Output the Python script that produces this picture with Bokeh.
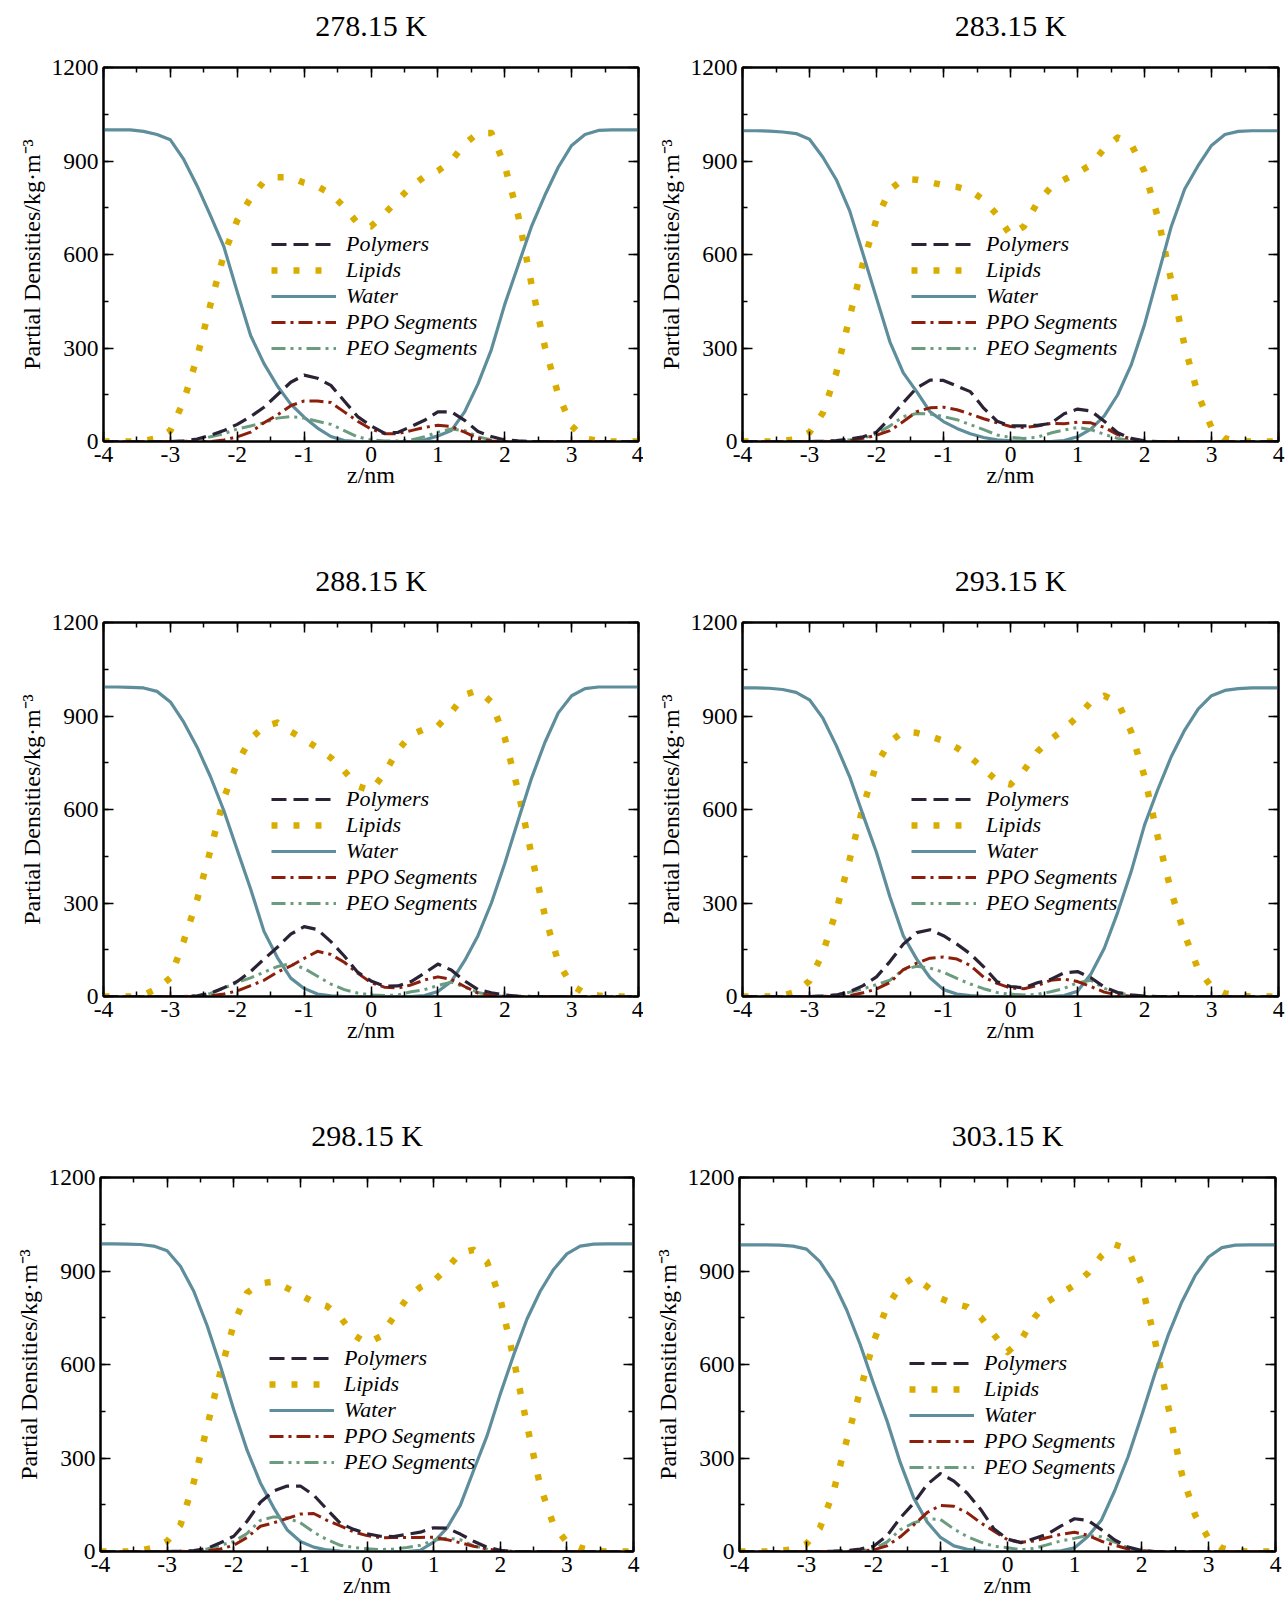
from bokeh.plotting import figure
from bokeh.models import (Range1d, SingleIntervalTicker, LinearAxis, Legend, LegendItem,
                          CustomLabelingPolicy, CustomJSTickFormatter)
from bokeh.layouts import column, row
from bokeh.embed import file_html
from bokeh.resources import INLINE

SERIF = "Liberation Serif"

# z coordinate (nm)
z = [-4.0, -3.8, -3.6, -3.4, -3.2, -3.0, -2.8, -2.6, -2.4, -2.2,
     -2.0, -1.8, -1.6, -1.4, -1.2, -1.0, -0.8, -0.6, -0.4, -0.2,
     0.0, 0.2, 0.4, 0.6, 0.8, 1.0, 1.2, 1.4, 1.6, 1.8,
     2.0, 2.2, 2.4, 2.6, 2.8, 3.0, 3.2, 3.4, 3.6, 3.8, 4.0]

temperatures = ["278.15 K", "283.15 K", "288.15 K", "293.15 K", "298.15 K", "303.15 K"]
series_names = ["Polymers", "Lipids", "Water", "PPO Segments", "PEO Segments"]

# ---- 278.15 K ----
water_278 = [1000, 1000, 1000, 995, 985, 968, 905, 820, 725, 625,
             480, 340, 250, 178, 120, 78, 43, 16, 3, 0,
             0, 0, 0, 0, 5, 18, 35, 95, 185, 295,
             440, 565, 690, 790, 880, 950, 985, 998, 1000, 1000, 1000]
lipids_278 = [0, 0, 0, 2, 10, 35, 130, 270, 440, 600,
              710, 781, 835, 848, 848, 830, 818, 795, 752, 700,
              690, 730, 775, 818, 850, 868, 900, 955, 990, 990,
              885, 726, 505, 304, 150, 50, 10, 2, 0, 0, 0]
polymers_278 = [0, 0, 0, 0, 0, 0, 2, 8, 20, 35,
                55, 80, 110, 150, 190, 213, 203, 180, 130, 80,
                50, 27, 29, 48, 68, 95, 95, 68, 32, 16,
                5, 2, 0, 0, 0, 0, 0, 0, 0, 0, 0]
ppo_278 = [0, 0, 0, 0, 0, 0, 0, 0, 0, 5,
           15, 30, 60, 85, 115, 130, 130, 125, 95, 65,
           40, 25, 25, 35, 45, 52, 48, 30, 10, 2,
           0, 0, 0, 0, 0, 0, 0, 0, 0, 0, 0]
peo_278 = [0, 0, 0, 0, 0, 0, 0, 5, 15, 25,
           40, 50, 60, 75, 80, 75, 65, 55, 35, 15,
           5, 2, 2, 5, 15, 30, 40, 35, 15, 5,
           0, 0, 0, 0, 0, 0, 0, 0, 0, 0, 0]

# ---- 283.15 K ----
water_283 = [997, 997, 996, 993, 988, 970, 912, 840, 740, 601,
             460, 320, 220, 160, 95, 64, 42, 25, 13, 5,
             2, 0, 0, 0, 3, 15, 40, 82, 150, 245,
             375, 532, 690, 810, 885, 950, 985, 995, 997, 997, 997]
lipids_283 = [0, 0, 0, 1, 8, 29, 92, 220, 400, 574,
              713, 808, 842, 840, 832, 822, 817, 805, 775, 727,
              662, 690, 766, 815, 840, 862, 888, 940, 975, 955,
              866, 720, 515, 305, 150, 45, 10, 2, 0, 0, 0]
polymers_283 = [0, 0, 0, 0, 0, 0, 1, 3, 8, 15,
                30, 75, 125, 172, 197, 196, 178, 160, 107, 65,
                50, 50, 52, 58, 89, 104, 98, 65, 28, 10,
                2, 0, 0, 0, 0, 0, 0, 0, 0, 0, 0]
ppo_283 = [0, 0, 0, 0, 0, 0, 0, 0, 3, 10,
           20, 35, 64, 96, 108, 110, 102, 88, 73, 60,
           48, 45, 50, 58, 57, 62, 60, 45, 22, 8,
           0, 0, 0, 0, 0, 0, 0, 0, 0, 0, 0]
peo_283 = [0, 0, 0, 0, 0, 0, 0, 2, 5, 10,
           25, 50, 80, 90, 88, 80, 70, 54, 38, 21,
           13, 10, 14, 27, 37, 45, 38, 23, 10, 3,
           0, 0, 0, 0, 0, 0, 0, 0, 0, 0, 0]

# ---- 288.15 K ----
water_288 = [993, 993, 992, 990, 979, 945, 880, 800, 705, 596,
             470, 345, 209, 125, 59, 26, 8, 2, 0, 0,
             0, 0, 0, 0, 3, 16, 48, 115, 195, 300,
             427, 565, 700, 815, 910, 965, 988, 993, 993, 993, 993]
lipids_288 = [0, 0, 0, 5, 25, 60, 178, 310, 470, 636,
              750, 827, 866, 879, 850, 825, 797, 766, 724, 675,
              660, 715, 790, 840, 858, 868, 912, 968, 982, 945,
              830, 660, 455, 260, 110, 36, 10, 3, 0, 0, 0]
polymers_288 = [0, 0, 0, 0, 0, 0, 0, 2, 10, 28,
                48, 80, 120, 158, 200, 224, 215, 176, 130, 78,
                50, 33, 34, 48, 75, 104, 85, 50, 22, 12,
                5, 1, 0, 0, 0, 0, 0, 0, 0, 0, 0]
ppo_288 = [0, 0, 0, 0, 0, 0, 0, 0, 2, 8,
           18, 35, 52, 78, 98, 122, 145, 135, 110, 75,
           45, 30, 27, 37, 53, 63, 55, 32, 11, 3,
           0, 0, 0, 0, 0, 0, 0, 0, 0, 0, 0]
peo_288 = [0, 0, 0, 0, 0, 0, 0, 3, 10, 27,
           45, 60, 78, 96, 105, 90, 65, 40, 22, 11,
           5, 3, 5, 15, 22, 35, 46, 30, 13, 4,
           0, 0, 0, 0, 0, 0, 0, 0, 0, 0, 0]

# ---- 293.15 K ----
water_293 = [990, 990, 989, 985, 976, 952, 893, 805, 705, 582,
             462, 320, 195, 120, 60, 22, 8, 3, 0, 0,
             0, 0, 0, 0, 3, 17, 72, 155, 270, 400,
             550, 665, 770, 855, 922, 965, 982, 988, 990, 990, 990]
lipids_293 = [0, 0, 0, 3, 15, 50, 140, 275, 440, 610,
              745, 817, 850, 846, 835, 820, 798, 768, 730, 692,
              680, 725, 785, 825, 858, 898, 945, 965, 945, 850,
              706, 510, 335, 198, 88, 31, 10, 3, 0, 0, 0]
polymers_293 = [0, 0, 0, 0, 0, 0, 2, 5, 15, 35,
                63, 112, 168, 205, 214, 195, 168, 137, 95, 47,
                32, 28, 44, 55, 76, 80, 60, 30, 13, 5,
                1, 0, 0, 0, 0, 0, 0, 0, 0, 0, 0]
ppo_293 = [0, 0, 0, 0, 0, 0, 0, 0, 3, 12,
           24, 45, 86, 107, 123, 127, 120, 100, 62, 42,
           27, 25, 35, 52, 56, 48, 32, 14, 5, 1,
           0, 0, 0, 0, 0, 0, 0, 0, 0, 0, 0]
peo_293 = [0, 0, 0, 0, 0, 0, 0, 5, 14, 25,
           38, 52, 86, 97, 91, 78, 58, 40, 25, 13,
           7, 5, 7, 15, 26, 44, 52, 26, 12, 4,
           0, 0, 0, 0, 0, 0, 0, 0, 0, 0, 0]

# ---- 298.15 K ----
water_298 = [987, 987, 986, 985, 980, 965, 915, 835, 725, 595,
             455, 325, 220, 140, 70, 32, 14, 5, 1, 0,
             0, 0, 0, 0, 4, 30, 75, 148, 260, 370,
             505, 630, 745, 835, 905, 955, 980, 986, 987, 987, 987]
lipids_298 = [0, 0, 0, 3, 12, 33, 85, 222, 400, 576,
              730, 830, 860, 866, 845, 823, 800, 787, 752, 695,
              668, 690, 752, 812, 848, 868, 908, 958, 968, 930,
              812, 619, 407, 210, 85, 30, 12, 2, 0, 0, 0]
polymers_298 = [0, 0, 0, 0, 0, 0, 1, 3, 10, 28,
                49, 97, 158, 194, 210, 210, 181, 135, 90, 71,
                57, 49, 48, 55, 62, 76, 75, 56, 33, 14,
                4, 0, 0, 0, 0, 0, 0, 0, 0, 0, 0]
ppo_298 = [0, 0, 0, 0, 0, 0, 0, 0, 2, 8,
           20, 45, 81, 92, 106, 120, 122, 100, 82, 63,
           51, 44, 45, 45, 45, 46, 38, 28, 17, 8,
           2, 0, 0, 0, 0, 0, 0, 0, 0, 0, 0]
peo_298 = [0, 0, 0, 0, 0, 0, 0, 2, 8, 20,
           32, 58, 100, 111, 108, 92, 62, 38, 20, 13,
           9, 6, 8, 13, 20, 36, 43, 38, 18, 8,
           2, 0, 0, 0, 0, 0, 0, 0, 0, 0, 0]

# ---- 303.15 K ----
water_303 = [984, 984, 984, 983, 980, 970, 930, 865, 775, 665,
             539, 420, 285, 172, 95, 45, 18, 7, 2, 0,
             0, 0, 0, 0, 2, 12, 48, 100, 195, 304,
             435, 570, 695, 800, 885, 945, 975, 983, 984, 984, 984]
lipids_303 = [0, 0, 0, 1, 8, 25, 75, 190, 357, 515,
              672, 785, 850, 880, 850, 812, 795, 785, 752, 695,
              640, 678, 750, 802, 828, 855, 893, 948, 985, 970,
              860, 678, 464, 250, 117, 42, 11, 2, 0, 0, 0]
polymers_303 = [0, 0, 0, 0, 0, 0, 0, 1, 3, 8,
                17, 50, 108, 155, 215, 250, 226, 187, 135, 72,
                40, 28, 42, 56, 82, 105, 100, 70, 37, 14,
                3, 0, 0, 0, 0, 0, 0, 0, 0, 0, 0]
ppo_303 = [0, 0, 0, 0, 0, 0, 0, 0, 0, 2,
           5, 18, 47, 85, 125, 148, 145, 124, 92, 65,
           38, 30, 34, 45, 55, 62, 52, 33, 20, 8,
           2, 0, 0, 0, 0, 0, 0, 0, 0, 0, 0]
peo_303 = [0, 0, 0, 0, 0, 0, 0, 0, 0, 2,
           8, 30, 70, 92, 105, 103, 72, 48, 30, 17,
           12, 6, 10, 22, 34, 42, 52, 47, 30, 12,
           3, 0, 0, 0, 0, 0, 0, 0, 0, 0, 0]

panel_data = [
    (polymers_278, lipids_278, water_278, ppo_278, peo_278),
    (polymers_283, lipids_283, water_283, ppo_283, peo_283),
    (polymers_288, lipids_288, water_288, ppo_288, peo_288),
    (polymers_293, lipids_293, water_293, ppo_293, peo_293),
    (polymers_298, lipids_298, water_298, ppo_298, peo_298),
    (polymers_303, lipids_303, water_303, ppo_303, peo_303),
]

# styles: color, width, dash
styles = [
    ("#2c2236", 3.2, "15 7"),          # Polymers
    ("#d9ad00", 6.5, "6 16"),          # Lipids
    ("#5e8d9c", 3.2, "solid"),         # Water
    ("#8c1f0c", 3.0, "14 5 3 5"),      # PPO
    ("#6c9c7f", 3.0, "14 5 3 5 3 5"),  # PEO
]
draw_order = [1, 2, 4, 3, 0]

# per-panel layout: left border, frame width, right border, bottom border, legend x, legend y
cfg = [
    dict(bl=103, fw=535, br=5, bb=114, lx=168, ly=80),
    dict(bl=99, fw=536, br=8, bb=114, lx=169, ly=80),
    dict(bl=103, fw=535, br=5, bb=114, lx=168, ly=80),
    dict(bl=99, fw=536, br=8, bb=114, lx=169, ly=80),
    dict(bl=100, fw=533, br=10, bb=49, lx=169, ly=76),
    dict(bl=96, fw=536, br=11, bb=49, lx=170, ly=71),
]

HIDE_CODE = "for (const i of Array.from(indices)) { indices.unset(i) }\nreturn indices"


def style_axis(ax, labels=True):
    ax.major_tick_in = 10
    ax.major_tick_out = 0
    ax.minor_tick_in = 5
    ax.minor_tick_out = 0
    ax.major_tick_line_width = 1.5
    ax.minor_tick_line_width = 1.5
    ax.major_tick_line_color = "black"
    ax.minor_tick_line_color = "black"
    ax.axis_line_width = 2
    ax.axis_line_color = "black"
    if labels:
        ax.major_label_text_font = SERIF
        ax.major_label_text_font_size = "23.5px"
        ax.major_label_text_color = "black"
        ax.formatter = CustomJSTickFormatter(code="return tick.toFixed(0)")
    else:
        ax.major_label_policy = CustomLabelingPolicy(code=HIDE_CODE)
        ax.major_label_text_font_size = "1px"
        ax.major_label_standoff = 0


def make_panel(i):
    c = cfg[i]
    p = figure(frame_width=c["fw"], frame_height=374,
               min_border_left=c["bl"], min_border_right=c["br"],
               min_border_top=67, min_border_bottom=c["bb"],
               x_range=Range1d(-4, 4), y_range=Range1d(0, 1200),
               output_backend="svg", toolbar_location=None,
               background_fill_color="white", border_fill_color="white",
               outline_line_color="black", outline_line_width=2)
    p.xgrid.visible = False
    p.ygrid.visible = False

    xt = SingleIntervalTicker(interval=1, num_minor_ticks=2)
    yt = SingleIntervalTicker(interval=300, num_minor_ticks=2)
    xa = p.xaxis[0]
    ya = p.yaxis[0]
    xa.ticker = xt
    ya.ticker = yt
    style_axis(xa)
    style_axis(ya)
    xa.major_label_standoff = 5
    ya.major_label_standoff = 5

    xa.axis_label = "z/nm"
    xa.axis_label_text_font = SERIF
    xa.axis_label_text_font_style = "normal"
    xa.axis_label_text_font_size = "24px"
    xa.axis_label_text_color = "black"
    xa.axis_label_standoff = -3

    ya.axis_label = "Partial Densities/kg·m⁻³"
    ya.axis_label_text_font = SERIF
    ya.axis_label_text_font_style = "normal"
    ya.axis_label_text_font_size = "24px"
    ya.axis_label_text_color = "black"
    ya.axis_label_standoff = 4

    top = LinearAxis(ticker=xt)
    style_axis(top, labels=False)
    p.add_layout(top, "above")
    right = LinearAxis(ticker=yt)
    style_axis(right, labels=False)
    p.add_layout(right, "right")

    # invisible spacer between frame and title
    spacer = LinearAxis(ticker=xt)
    spacer.major_label_policy = CustomLabelingPolicy(code=HIDE_CODE)
    spacer.major_label_text_font_size = "1px"
    spacer.major_label_standoff = 0
    spacer.axis_line_color = None
    spacer.major_tick_line_color = None
    spacer.minor_tick_line_color = None
    spacer.major_tick_in = 0
    spacer.major_tick_out = 13
    spacer.minor_tick_in = 0
    spacer.minor_tick_out = 0
    p.add_layout(spacer, "above")

    p.title.text = temperatures[i]
    p.title.align = "center"
    p.title.text_font = SERIF
    p.title.text_font_style = "normal"
    p.title.text_font_size = "30px"
    p.title.text_color = "black"
    p.title.standoff = 10

    data = panel_data[i]
    renderers = [None] * 5
    for k in draw_order:
        col, w, dash = styles[k]
        r = p.line(z, data[k], line_color=col, line_width=w, line_dash=dash,
                   line_cap="butt", line_join="round")
        renderers[k] = r

    items = [LegendItem(label=series_names[k], renderers=[renderers[k]]) for k in range(5)]
    leg = Legend(items=items, location=(c["lx"], c["ly"]),
                 glyph_width=65, glyph_height=20, label_height=20,
                 label_standoff=10, spacing=0, padding=0, margin=0,
                 border_line_color=None, background_fill_alpha=0,
                 label_text_font=SERIF, label_text_font_style="italic",
                 label_text_font_size="22px", label_text_color="black",
                 label_text_baseline="middle")
    p.add_layout(leg)
    return p


plots = [make_panel(i) for i in range(6)]
layout = column(row(plots[0], plots[1]), row(plots[2], plots[3]), row(plots[4], plots[5]))

open("out.html", "w").write(file_html(layout, INLINE))
